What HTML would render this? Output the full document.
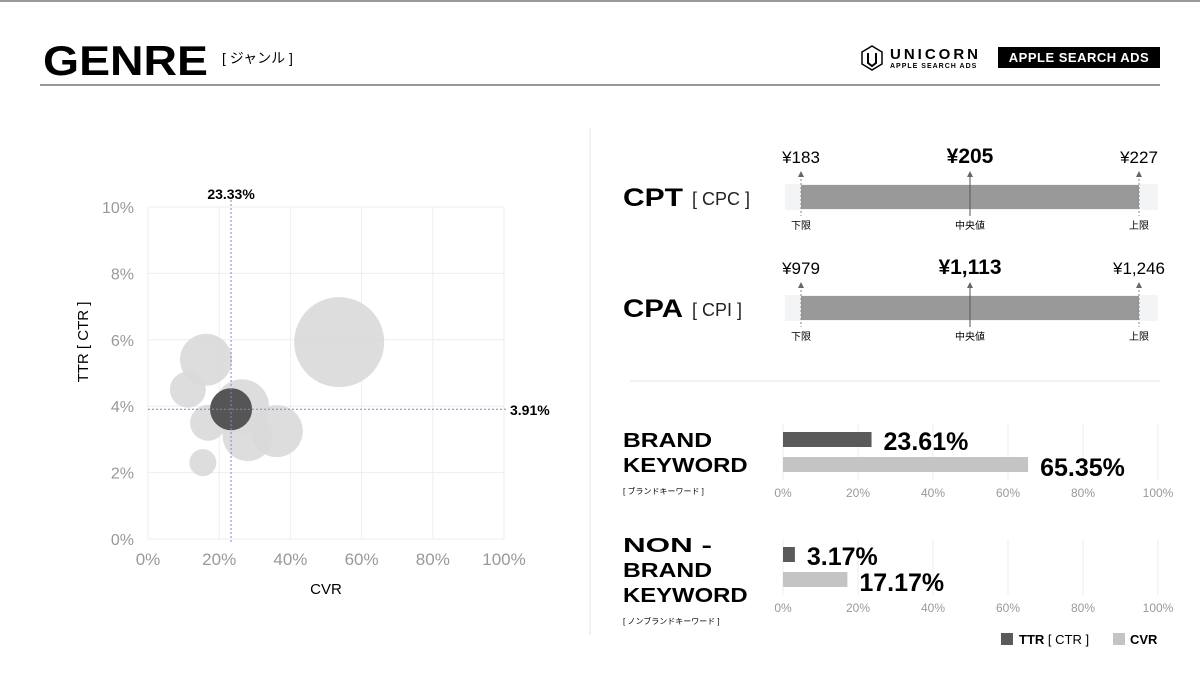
<!DOCTYPE html>
<html><head><meta charset="utf-8">
<style>
html,body{margin:0;padding:0;background:#fff;width:1200px;height:675px;overflow:hidden}
svg{display:block;font-family:"Liberation Sans","Noto Sans CJK JP",sans-serif}
</style></head>
<body>
<svg id="s" width="1200" height="675" viewBox="0 0 1200 675">
<rect x="0" y="0" width="1200" height="2" fill="#999"/>
<text x="43" y="75" font-size="42" font-weight="900" fill="#000" textLength="165" lengthAdjust="spacingAndGlyphs">GENRE</text>
<text x="222" y="63" font-size="14" fill="#000">[ ジャンル ]</text>
<g>
<polygon points="872,46 882,52 882,64 872,70 862,64 862,52" fill="none" stroke="#000" stroke-width="1.5"/>
<path d="M868,53 L868,63 L872,66 L876,63 L876,53" fill="none" stroke="#000" stroke-width="2"/>
<text x="890" y="59" font-size="15" font-weight="700" letter-spacing="3" fill="#000">UNICORN</text>
<text x="890" y="68" font-size="7" font-weight="700" letter-spacing="1" fill="#000">APPLE SEARCH ADS</text>
</g>
<rect x="998" y="47" width="162" height="21" fill="#000"/>
<text x="1079" y="62" font-size="13" font-weight="700" fill="#fff" text-anchor="middle" letter-spacing="0.5">APPLE SEARCH ADS</text>
<rect x="40" y="84" width="1120" height="2" fill="#999"/>
<line x1="590" y1="128" x2="590" y2="635" stroke="#e6e6e6"/>
<line x1="630" y1="381" x2="1160" y2="381" stroke="#e6e6e6"/>
<g id="scatter"></g>
<g id="range"></g>
<g id="kw"></g>
<g>
<rect x="1001" y="633" width="12" height="12" fill="#5a5a5a"/>
<text x="1019" y="644" font-size="13" fill="#000"><tspan font-weight="700">TTR</tspan> [ CTR ]</text>
<rect x="1113" y="633" width="12" height="12" fill="#c4c4c4"/>
<text x="1130" y="644" font-size="13" font-weight="700" fill="#000">CVR</text>
</g>
</svg>
<script>
// Bubble chart data
const bubbleCVR = [53.7, 16.3, 11.2, 16.9, 15.4, 26.4, 28.0, 36.2];
const bubbleTTR = [5.93, 5.4, 4.5, 3.5, 2.3, 4.0, 3.1, 3.25];
const bubbleSize = [45, 26, 18, 18, 13.5, 27, 25, 26];
const genreCVR = 23.33, genreTTR = 3.91, genreSize = 21;
const xTicks = [0, 20, 40, 60, 80, 100];
const yTicks = [0, 2, 4, 6, 8, 10];
// Range data
const rangeNames = ["CPT", "CPA"];
const rangeSubs = ["[ CPC ]", "[ CPI ]"];
const rangeLow = ["¥183", "¥979"];
const rangeMid = ["¥205", "¥1,113"];
const rangeHigh = ["¥227", "¥1,246"];
// Keyword bar data
const kwTTR = [23.61, 3.17];
const kwCVR = [65.35, 17.17];
const kwTicks = [0, 20, 40, 60, 80, 100];

const NS = "http://www.w3.org/2000/svg";
function mk(parent, tag, attrs, text){const e=document.createElementNS(NS,tag);for(const k in attrs)e.setAttribute(k,attrs[k]);if(text!==undefined)e.textContent=text;parent.appendChild(e);return e;}

// scatter
const sc = document.getElementById('scatter');
const X = v => 148 + v/100*356;
const Y = v => 539 - v/10*332;
xTicks.forEach(t=>{
  const l=mk(sc,'line',{x1:X(t),x2:X(t),y1:Y(10),y2:Y(0),stroke:'#eeeeee'});
  
  
  const tx=mk(sc,'text',{x:X(t),y:565,'font-size':17,fill:'#999','text-anchor':'middle'},t+'%');
  
  
});
yTicks.forEach(t=>{
  const l=mk(sc,'line',{x1:X(0),x2:X(100),y1:Y(t),y2:Y(t),stroke:'#eeeeee'});
  
  
  const tx=mk(sc,'text',{x:134,y:Y(t)+6,'font-size':16,fill:'#999','text-anchor':'end'},t+'%');
  
  
});
bubbleCVR.forEach((v,i)=>{
  const c=mk(sc,'circle',{cx:X(v),cy:Y(bubbleTTR[i]),r:bubbleSize[i],fill:'#d9d9d9','fill-opacity':0.9});
  
  
});
const gb=mk(sc,'circle',{cx:X(genreCVR),cy:Y(genreTTR),r:genreSize,fill:'#555'});


const vl=mk(sc,'line',{x1:X(genreCVR),x2:X(genreCVR),y1:200,y2:Y(0)+4,stroke:'#8a7fd6','stroke-dasharray':'2,2'});


const hl=mk(sc,'line',{x1:X(0),x2:X(100)+3,y1:Y(genreTTR),y2:Y(genreTTR),stroke:'#8a7fd6','stroke-dasharray':'2,2'});


const vlab=mk(sc,'text',{x:X(genreCVR),y:199,'font-size':14,'font-weight':700,'text-anchor':'middle'},genreCVR.toFixed(2)+'%');


const hlab=mk(sc,'text',{x:510,y:Y(genreTTR)+6,'font-size':14,'font-weight':700},genreTTR.toFixed(2)+'%');


const xt=mk(sc,'text',{x:326,y:594,'font-size':15,'text-anchor':'middle'},'CVR');


const yt=mk(sc,'text',{x:0,y:0,'font-size':15,'text-anchor':'middle',transform:'translate(88,342) rotate(-90)'},'TTR [ CTR ]');



// ranges
const rg=document.getElementById('range');
rangeNames.forEach((n,i)=>{
  const oy=i*111;
  const t=mk(rg,'text',{x:623,y:206+oy,'font-size':25,'font-weight':900,textLength:60,lengthAdjust:'spacingAndGlyphs'},n);
  
  
  const s=mk(rg,'text',{x:692,y:205+oy,'font-size':18,fill:'#222'},rangeSubs[i]);
  
  
  const bg=mk(rg,'rect',{x:785,y:184+oy,width:373,height:26,fill:'#f3f4f6'});
  
  
  const b=mk(rg,'rect',{x:801,y:185+oy,width:338,height:24,fill:'#999'});
  
  
  [[801,rangeLow[i],'下限',17,400,'dot'],[970,rangeMid[i],'中央値',21,700,'solid'],[1139,rangeHigh[i],'上限',17,400,'dot']].forEach(p=>{
    const ln=mk(rg,'line',{x1:p[0],x2:p[0],y1:175+oy,y2:216+oy,stroke:p[5]==='dot'?'#888':'#555','stroke-dasharray':p[5]==='dot'?'2,2':'none'});
    
    
    const ar=mk(rg,'polygon',{points:`${p[0]-3},${177+oy} ${p[0]+3},${177+oy} ${p[0]},${171+oy}`,fill:'#666'});
    
    
    const v=mk(rg,'text',{x:p[0],y:163+oy,'font-size':p[3],'font-weight':p[4],'text-anchor':'middle'},p[1]);
    
    
    const lb=mk(rg,'text',{x:p[0],y:229+oy,'font-size':10,'text-anchor':'middle'},p[2]);
    
    
  });
});

// keyword bars
const kw=document.getElementById('kw');
const KX=v=>783+v/100*375;
const kwTitles=[["BRAND","KEYWORD"],["NON -","BRAND","KEYWORD"]];
const kwSubs=["[ ブランドキーワード ]","[ ノンブランドキーワード ]"];
const kwTop=[432,547];
kwTTR.forEach((v,i)=>{
  const y0=kwTop[i];
  kwTicks.forEach(t=>{
    const g=mk(kw,'line',{x1:KX(t),x2:KX(t),y1:y0-8,y2:y0+48,stroke:'#eeeeee'});
    
    
    const tl=mk(kw,'text',{x:KX(t),y:y0+65,'font-size':12,fill:'#999','text-anchor':'middle'},t+'%');
    
    
  });
  const b1=mk(kw,'rect',{x:KX(0),y:y0,width:KX(v)-KX(0),height:15,fill:'#5a5a5a'});
  
  
  const l1=mk(kw,'text',{x:KX(v)+12,y:y0+18,'font-size':25,'font-weight':900},v.toFixed(2)+'%');
  
  
  const b2=mk(kw,'rect',{x:KX(0),y:y0+25,width:KX(kwCVR[i])-KX(0),height:15,fill:'#c4c4c4'});
  
  
  const l2=mk(kw,'text',{x:KX(kwCVR[i])+12,y:y0+44,'font-size':25,'font-weight':900},kwCVR[i].toFixed(2)+'%');
  
  
  const ty0=i===0?447:552;
  kwTitles[i].forEach((w,j)=>{
    const tt=mk(kw,'text',{x:623,y:ty0+j*25,'font-size':20,'font-weight':900,textLength:w.length*17.8,lengthAdjust:'spacingAndGlyphs'},w);
    
    
  });
  const st=mk(kw,'text',{x:623,y:ty0+kwTitles[i].length*25-3,'font-size':8},kwSubs[i]);
  
  
});
</script>
</body></html>
